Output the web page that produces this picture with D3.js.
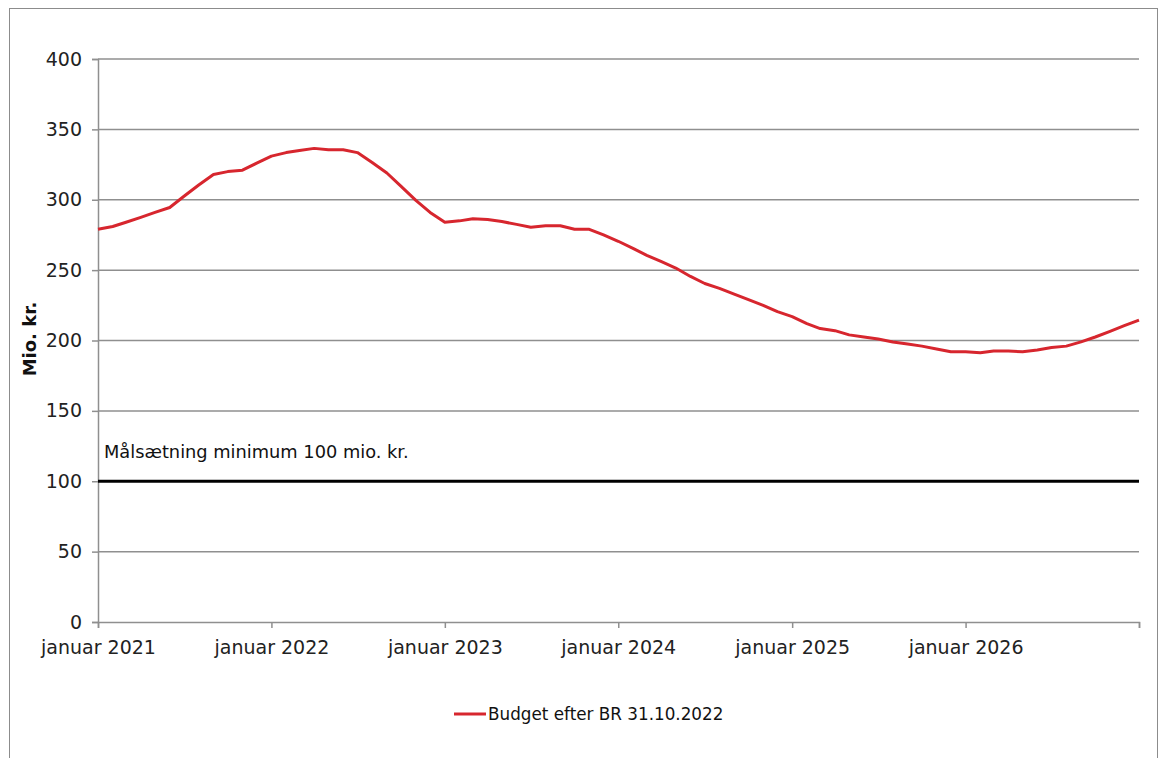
<!DOCTYPE html>
<html>
<head>
<meta charset="utf-8">
<script src="https://cdn.jsdelivr.net/npm/d3@7"></script>
<style>
  body { margin: 0; background: #fff; }
  svg { display: block; }
  svg text { font-family: "DejaVu Sans", Verdana, sans-serif; }
</style>
</head>
<body>
<div id="chart"></div>
<script>
// monthly budget balance, Jan 2021 .. Jan 2027 (mio. kr.)
var startMonth = "2021-01";
var budget = [
  279, 281, 284, 287.5, 291, 294.5, 302.5, 310.5, 318, 320, 321, 326,
  331, 333.5, 335, 336.5, 335.5, 335.5, 333.5, 326.5, 319, 309.5, 299.5, 291,
  284, 285, 286.5, 286, 284.5, 282.5, 280.5, 281.5, 281.5, 279, 279, 275,
  270.5, 265.5, 260.5, 256, 251.5, 245.5, 240.5, 237, 233, 229, 225, 220.5,
  217, 212, 208.5, 207, 204, 202.5, 201, 199, 197.5, 196, 194, 192,
  192, 191.3, 192.5, 192.5, 192, 193.3, 195, 196, 199, 202.5, 206.5, 210.5,
  214.5
];
var yTicks = [0, 50, 100, 150, 200, 250, 300, 350, 400];
var xTickYears = [2021, 2022, 2023, 2024, 2025, 2026];
var targetValue = 100;
var targetLabel = "Målsætning minimum 100 mio. kr.";
var seriesName = "Budget efter BR 31.10.2022";
var yTitle = "Mio. kr.";

var W = 1161, H = 758;
var margin = {top: 59, right: 22, bottom: 136, left: 98},
  width = 1139 - margin.left,
  height = 622 - margin.top;

var parseMonth = d3.timeParse("%Y-%m");
var t0 = parseMonth(startMonth);
var data = budget.map(function(v, i) { return {date: d3.timeMonth.offset(t0, i), value: v}; });

var svg = d3.select("#chart").append("svg")
  .attr("width", W)
  .attr("height", H);

// outer frame
svg.append("rect")
  .attr("x", 9.5).attr("y", 8.5)
  .attr("width", 1148).attr("height", 780)
  .attr("fill", "none").attr("stroke", "#8c8c8c").attr("stroke-width", 1);

var g = svg.append("g")
  .attr("transform", "translate(" + margin.left + "," + margin.top + ")");

var x = d3.scaleTime()
  .domain([t0, d3.timeMonth.offset(t0, 72)])
  .range([0, width]);

var y = d3.scaleLinear()
  .domain([0, 400])
  .range([height, 0]);

// gridlines
g.append("g")
  .selectAll("line")
  .data(yTicks.filter(function(d) { return d > 0; }))
  .enter().append("line")
  .attr("x1", 0).attr("x2", width)
  .attr("y1", function(d) { return y(d); })
  .attr("y2", function(d) { return y(d); })
  .attr("stroke", "#8f8f8f").attr("stroke-width", 1.5);

// y axis
var yAxis = g.append("g")
  .call(d3.axisLeft(y).tickValues(yTicks).tickSize(6).tickPadding(10));
yAxis.attr("font-family", null).attr("font-size", null);
yAxis.select(".domain").attr("stroke", "#8f8f8f").attr("stroke-width", 1.5);
yAxis.selectAll(".tick line").attr("stroke", "#8f8f8f").attr("stroke-width", 1.5);
yAxis.selectAll("text")
  .attr("fill", "#222").style("font-size", "19px");

// x axis
var xTicks = xTickYears.map(function(yr) { return new Date(yr, 0, 1); });
xTicks.push(d3.timeMonth.offset(t0, 72));
var xAxis = g.append("g")
  .attr("transform", "translate(0," + height + ")")
  .call(d3.axisBottom(x).tickValues(xTicks).tickSize(6).tickPadding(13)
    .tickFormat(function(d) { return d.getFullYear() <= 2026 ? "januar " + d.getFullYear() : ""; }));
xAxis.attr("font-family", null).attr("font-size", null);
xAxis.select(".domain").attr("stroke", "#8f8f8f").attr("stroke-width", 1.5);
xAxis.selectAll(".tick line").attr("stroke", "#8f8f8f").attr("stroke-width", 1.5);
xAxis.selectAll("text")
  .attr("fill", "#222").style("font-size", "19px");

// y title
svg.append("text")
  .attr("transform", "translate(36,339) rotate(-90)")
  .attr("text-anchor", "middle")
  .style("font-size", "18px").style("font-weight", "bold")
  .attr("fill", "#111")
  .text(yTitle);

// target line
g.append("line")
  .attr("x1", 0).attr("x2", width)
  .attr("y1", y(targetValue)).attr("y2", y(targetValue))
  .attr("stroke", "#000").attr("stroke-width", 3);

g.append("text")
  .attr("x", 6).attr("y", y(targetValue) - 23)
  .style("font-size", "17.8px").attr("fill", "#111")
  .text(targetLabel);

// budget line
var line = d3.line()
  .x(function(d) { return x(d.date); })
  .y(function(d) { return y(d.value); });

g.append("path")
  .datum(data)
  .attr("fill", "none")
  .attr("stroke", "#d7262e")
  .attr("stroke-width", 3)
  .attr("stroke-linejoin", "round")
  .attr("d", line);

// legend
var legend = svg.append("g").attr("transform", "translate(454,714)");
legend.append("line")
  .attr("x1", 0).attr("x2", 32).attr("y1", 0).attr("y2", 0)
  .attr("stroke", "#d7262e").attr("stroke-width", 3);
legend.append("text")
  .attr("x", 34).attr("y", 6)
  .style("font-size", "16.8px").attr("fill", "#111")
  .text(seriesName);
</script>
</body>
</html>
